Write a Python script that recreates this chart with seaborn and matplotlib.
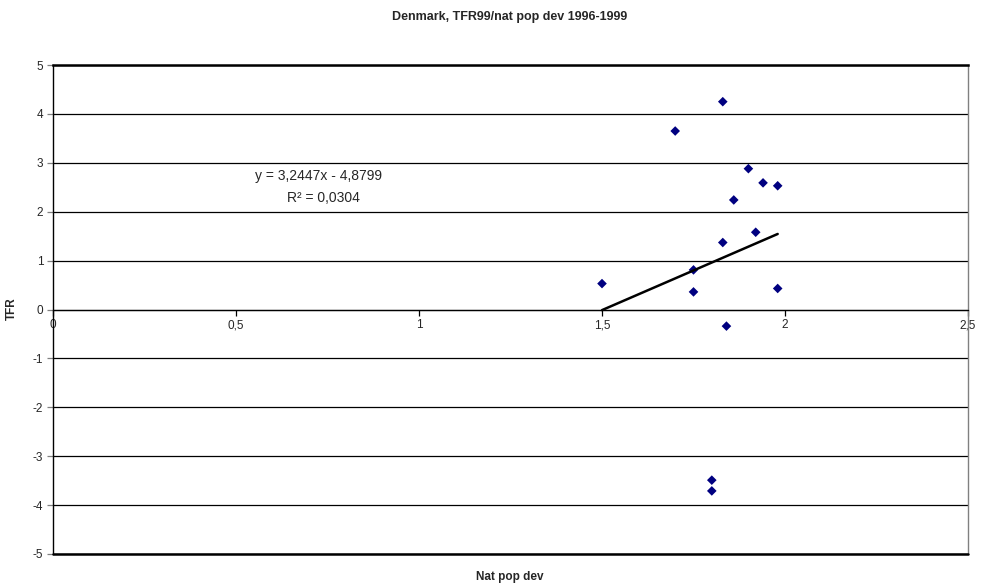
import numpy as np
import pandas as pd
import matplotlib
matplotlib.use("Agg")
import matplotlib.pyplot as plt
import seaborn as sns

# Natural population development vs. TFR, Danish municipalities 1996-1999
nat_pop_dev = [1.83, 1.70, 1.90, 1.94, 1.98, 1.86, 1.92, 1.83, 1.75, 1.50,
               1.75, 1.98, 1.84, 1.80, 1.80]
tfr = [4.25, 3.65, 2.88, 2.59, 2.53, 2.24, 1.58, 1.37, 0.81, 0.53,
       0.36, 0.43, -0.34, -3.49, -3.71]

# Linear trend line as reported
slope = 3.2447
intercept = -4.8799
r_squared = 0.0304

xticks = [0, 0.5, 1, 1.5, 2, 2.5]
xtick_labels = ["0", "0,5", "1", "1,5", "2", "2,5"]
yticks = [-5, -4, -3, -2, -1, 0, 1, 2, 3, 4, 5]
ytick_labels = ["-5", "-4", "-3", "-2", "-1", "0", "1", "2", "3", "4", "5"]

sns.set_theme(style="white")
plt.rcParams["font.family"] = ["Liberation Sans", "DejaVu Sans"]

df = pd.DataFrame({"Nat pop dev": nat_pop_dev, "TFR": tfr})

fig = plt.figure(figsize=(9.81, 5.88), dpi=100)
ax = fig.add_axes([53 / 981, 34 / 588, 915 / 981, 489 / 588])

# horizontal gridlines
for yv in yticks:
    ax.axhline(yv, color="black", lw=0.9, zorder=1)

sns.scatterplot(data=df, x="Nat pop dev", y="TFR", marker="D", s=24,
                color="#000080", edgecolor="none", ax=ax, zorder=3)

xs = np.array([min(nat_pop_dev), max(nat_pop_dev)])
trend = pd.DataFrame({"x": xs, "y": slope * xs + intercept})
sns.lineplot(data=trend, x="x", y="y", color="black", lw=1.8, ax=ax, zorder=4)

ax.set_xlim(0, 2.5)
ax.set_ylim(-5, 5)
ax.set_xticks(xticks)
ax.set_xticklabels(xtick_labels)
ax.set_yticks(yticks)
ax.set_yticklabels(ytick_labels)

ax.spines["bottom"].set_position(("data", 0))
ax.spines["bottom"].set_color("black")
ax.spines["bottom"].set_linewidth(0.9)
ax.spines["left"].set_color("black")
ax.spines["left"].set_linewidth(1.0)
ax.spines["right"].set_color("#808080")
ax.spines["right"].set_linewidth(1.0)
ax.spines["top"].set_color("black")
ax.spines["top"].set_linewidth(1.8)
ax.plot([0, 1], [0, 0], transform=ax.transAxes, color="black", lw=1.8,
        clip_on=False, zorder=5)

ax.tick_params(axis="x", direction="out", length=4, width=0.9, color="black",
               labelsize=8.5, pad=3, bottom=True)
ax.tick_params(axis="y", direction="out", length=4, width=0.9, color="#808080",
               labelsize=8.5, pad=3, left=True)

ax.set_xlabel("")
ax.set_ylabel("")
fig.text(12 / 981, 1 - 309 / 588, "TFR", rotation=90, ha="center", va="center",
         fontsize=8.5, fontweight="bold")
fig.text(510 / 981, 1 - 577 / 588, "Nat pop dev", ha="center", va="center",
         fontsize=8.5, fontweight="bold")
fig.text(510 / 981, 1 - 17 / 588, "Denmark, TFR99/nat pop dev 1996-1999",
         ha="center", va="center", fontsize=9, fontweight="bold")

eq = f"y = {slope:.4f}x - {abs(intercept):.4f}".replace(".", ",")
r2 = f"R² = {r_squared:.4f}".replace(".", ",")
ax.text(0.725, 2.72, eq, ha="center", va="center", fontsize=10)
ax.text(0.74, 2.27, r2, ha="center", va="center", fontsize=10)

fig.savefig("out.png", dpi=100)
